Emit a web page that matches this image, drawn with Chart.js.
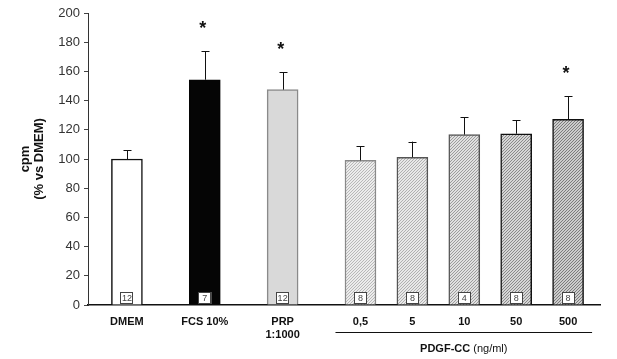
<!DOCTYPE html>
<html><head><meta charset="utf-8">
<script src="https://cdn.jsdelivr.net/npm/chart.js@4"></script>
<style>html,body{margin:0;padding:0;background:#fff}#wrap{width:617px;height:359px}</style>
</head><body><div id="wrap"><canvas id="c" width="617" height="359"></canvas></div>
<script>
// ---- data ----
const categories = ['DMEM', 'FCS 10%', ['PRP', '1:1000'], '0,5', '5', '10', '50', '500'];
const values = [100, 154.3, 147.5, 99.1, 101.2, 116.7, 117.3, 127.2];
const sem = [6, 19.4, 11.9, 9.6, 10.7, 11.9, 9.2, 15.7];
const nCounts = [12, 7, 12, 8, 8, 4, 8, 8];
const significant = [false, true, true, false, false, false, false, true];
const groupTitle = 'PDGF-CC';
const groupUnit = '(ng/ml)';
const groupMembers = [3, 4, 5, 6, 7];
const yTitle = ['cpm', '(% vs DMEM)'];

// ---- layout (slot positions along x) ----
const slots = [0, 3, 6, 9, 11, 13, 15, 17];
const FONT = "'Liberation Sans', Arial, sans-serif";

function hatch(bg, line, step) {
  const c = document.createElement('canvas');
  c.width = step; c.height = step;
  const g = c.getContext('2d');
  g.fillStyle = bg; g.fillRect(0, 0, step, step);
  g.strokeStyle = line; g.lineWidth = 1;
  g.beginPath();
  g.moveTo(0, step); g.lineTo(step, 0);
  g.moveTo(-1, 1); g.lineTo(1, -1);
  g.moveTo(step - 1, step + 1); g.lineTo(step + 1, step - 1);
  g.stroke();
  return g.createPattern(c, 'repeat');
}
const fills = [
  '#ffffff', '#050505', '#d9d9d9',
  hatch('#ececec', '#b8b8b8', 3),
  hatch('#e8e8e8', '#b0b0b0', 3),
  hatch('#e0e0e0', '#9c9c9c', 3),
  hatch('#d6d6d6', '#8a8a8a', 3),
  hatch('#cccccc', '#7c7c7c', 3)
];
const borders = ['#111', '#050505', '#8a8a8a', '#8a8a8a', '#555', '#555', '#111', '#111'];

const overlay = {
  id: 'overlay',
  afterDatasetsDraw(chart) {
    const ctx = chart.ctx;
    const meta = chart.getDatasetMeta(0);
    const y = chart.scales.y, x = chart.scales.x;
    ctx.save();
    meta.data.forEach((bar, i) => {
      const cx = bar.x;
      // n box
      const bw = 13, bh = 12, by = y.getPixelForValue(0) - 13;
      ctx.fillStyle = '#fff';
      ctx.fillRect(cx - bw / 2, by, bw, bh);
      ctx.strokeStyle = '#444'; ctx.lineWidth = 1;
      ctx.strokeRect(Math.round(cx - bw / 2) + 0.5, by + 0.5, bw - 1, bh - 1);
      ctx.fillStyle = '#444';
      ctx.font = '9px ' + FONT;
      ctx.textAlign = 'center'; ctx.textBaseline = 'middle';
      ctx.fillText(String(nCounts[i]), cx, by + bh / 2 + 0.5);
      // error bar
      const top = bar.y, et = y.getPixelForValue(values[i] + sem[i]);
      ctx.strokeStyle = '#111'; ctx.lineWidth = 1;
      ctx.beginPath();
      ctx.moveTo(Math.round(cx) + 0.5, top); ctx.lineTo(Math.round(cx) + 0.5, et);
      ctx.moveTo(Math.round(cx) - 3.5, Math.round(et) + 0.5); ctx.lineTo(Math.round(cx) + 4.5, Math.round(et) + 0.5);
      ctx.stroke();
      // significance star
      if (significant[i]) {
        ctx.fillStyle = '#111';
        ctx.font = 'bold 18px ' + FONT;
        ctx.textBaseline = 'alphabetic';
        ctx.fillText('*', cx - 2, et - 27 + 10);
      }
    });
    // group line + title
    const l = x.getPixelForValue(slots[groupMembers[0]]) - 25;
    const r = x.getPixelForValue(slots[groupMembers[groupMembers.length - 1]]) + 24;
    ctx.strokeStyle = '#111'; ctx.lineWidth = 1.2;
    ctx.beginPath(); ctx.moveTo(l, 332.5); ctx.lineTo(r, 332.5); ctx.stroke();
    const mid = (l + r) / 2;
    ctx.textBaseline = 'middle';
    ctx.font = 'bold 11px ' + FONT;
    const w1 = ctx.measureText(groupTitle + ' ').width;
    ctx.font = '11px ' + FONT;
    const w2 = ctx.measureText(groupUnit).width;
    const sx = mid - (w1 + w2) / 2;
    ctx.textAlign = 'left'; ctx.fillStyle = '#111';
    ctx.font = 'bold 11px ' + FONT;
    ctx.fillText(groupTitle, sx, 349);
    ctx.font = '11px ' + FONT;
    ctx.fillText(groupUnit, sx + w1, 349);
    ctx.restore();
  }
};

new Chart(document.getElementById('c'), {
  type: 'bar',
  data: {
    datasets: [{
      data: values.map((v, i) => ({ x: slots[i], y: v })),
      backgroundColor: fills,
      borderColor: borders,
      borderWidth: 1.5,
      barThickness: 31
    }]
  },
  options: {
    responsive: false,
    devicePixelRatio: 1,
    animation: false,
    layout: { padding: { top: 13, right: 17, left: 0, bottom: 0 } },
    plugins: { legend: { display: false }, tooltip: { enabled: false } },
    scales: {
      x: {
        type: 'linear',
        offset: false,
        min: -1.5, max: 18.23,
        afterBuildTicks: (s) => { s.ticks = slots.map(v => ({ value: v })); },
        afterFit: (s) => { s.height = 54; },
        grid: { display: false, drawTicks: false, offset: false },
        border: { display: true, color: '#111', width: 1.5 },
        ticks: {
          autoSkip: false, maxRotation: 0, padding: 11,
          color: '#111',
          font: { family: FONT, size: 11, weight: 'bold', lineHeight: 1.15 },
          callback: (v) => categories[slots.indexOf(v)]
        }
      },
      y: {
        min: 0, max: 200,
        afterFit: (s) => { s.width = 88; },
        grid: { drawOnChartArea: false, drawTicks: true, tickLength: 4, color: '#444' },
        border: { display: true, color: '#333', width: 1 },
        ticks: { stepSize: 20, padding: 4, color: '#333', font: { family: FONT, size: 13 } },
        title: {
          display: true, text: yTitle, color: '#111',
          font: { family: FONT, size: 13, weight: 'bold', lineHeight: 1.1 },
          padding: { top: 18, bottom: 0 }
        }
      }
    }
  },
  plugins: [overlay]
});
</script>
</body></html>
